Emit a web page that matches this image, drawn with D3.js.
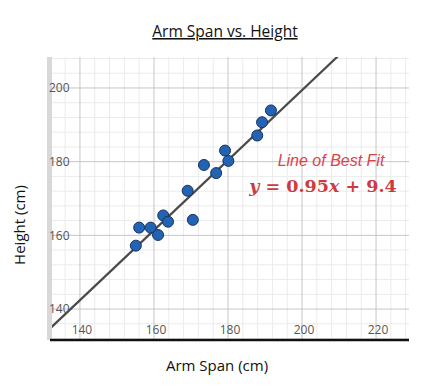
<!DOCTYPE html>
<html>
<head>
<meta charset="utf-8">
<script src="https://cdn.jsdelivr.net/npm/d3@7"></script>
<style>
    body { margin: 0; background: #fff; }
    svg { display: block; font-family: "Open Sans", "Noto Sans", sans-serif; }
</style>
</head>
<body>
<div id="chart"></div>
<script>
// data
const armSpan = [155.1, 156.0, 159.1, 161.1, 162.5, 163.8, 170.5, 169.1, 173.5, 176.8, 179.2, 180.1, 187.9, 189.2, 191.6];
const height = [157.2, 162.1, 162.1, 160.1, 165.4, 163.7, 164.2, 172.1, 179.1, 176.9, 183.0, 180.2, 187.1, 190.7, 193.9];
const xTicks = [140, 160, 180, 200, 220];
const yTicks = [140, 160, 180, 200];
const fitSlope = 0.95,
    fitIntercept = 9.4;

const W = 427, H = 390;
const plot = {left: 47, right: 409, top: 57, bottom: 340};

const x = d3.scaleLinear().domain([131.1, 228.9]).range([plot.left, plot.right]);
const y = d3.scaleLinear().domain([131.6, 208.4]).range([plot.bottom, plot.top]);

const svg = d3.select("#chart").append("svg")
    .attr("width", W)
    .attr("height", H);

svg.append("defs").append("clipPath").attr("id", "clip")
    .append("rect")
    .attr("x", plot.left).attr("y", plot.top)
    .attr("width", plot.right - plot.left).attr("height", plot.bottom - plot.top);

const g = svg.append("g").attr("clip-path", "url(#clip)");

// minor grid every 4 units
const minorX = d3.range(132, 229, 4).filter(v => v % 20 !== 0);
const minorY = d3.range(132, 209, 4).filter(v => v % 20 !== 0);

g.selectAll(".minor-x").data(minorX).enter().append("line")
    .attr("x1", d => x(d)).attr("x2", d => x(d))
    .attr("y1", plot.top).attr("y2", plot.bottom)
    .attr("stroke", "#ebebeb").attr("stroke-width", 1);

g.selectAll(".minor-y").data(minorY).enter().append("line")
    .attr("y1", d => y(d)).attr("y2", d => y(d))
    .attr("x1", plot.left).attr("x2", plot.right)
    .attr("stroke", "#ebebeb").attr("stroke-width", 1);

g.selectAll(".major-x").data(xTicks).enter().append("line")
    .attr("x1", d => x(d)).attr("x2", d => x(d))
    .attr("y1", plot.top).attr("y2", plot.bottom)
    .attr("stroke", "#c6c6c6").attr("stroke-width", 1);

g.selectAll(".major-y").data(yTicks).enter().append("line")
    .attr("y1", d => y(d)).attr("y2", d => y(d))
    .attr("x1", plot.left).attr("x2", plot.right)
    .attr("stroke", "#c6c6c6").attr("stroke-width", 1);

// gray band at left edge
svg.append("rect")
    .attr("x", plot.left).attr("y", plot.top)
    .attr("width", 5).attr("height", plot.bottom - plot.top)
    .attr("fill", "#d8d8d8");

// tick labels
svg.append("g").selectAll("text").data(xTicks).enter().append("text")
    .attr("x", d => x(d) + 2)
    .attr("y", 330)
    .attr("dy", "0.35em")
    .attr("text-anchor", "middle")
    .attr("font-size", 12)
    .attr("fill", "#555")
    .text(d => d);

svg.append("g").selectAll("text").data(yTicks).enter().append("text")
    .attr("x", plot.left + 2)
    .attr("y", d => y(d))
    .attr("dy", "0.35em")
    .attr("font-size", 12)
    .attr("fill", "#555")
    .text(d => d);

// line of best fit
const x0 = x.domain()[0], x1 = x.domain()[1];
g.append("line")
    .attr("x1", x(x0)).attr("y1", y(fitSlope * x0 + fitIntercept))
    .attr("x2", x(x1)).attr("y2", y(fitSlope * x1 + fitIntercept))
    .attr("stroke", "#4a4a4a")
    .attr("stroke-width", 2.2);

// points
g.selectAll(".pt").data(armSpan).enter().append("circle")
    .attr("cx", d => x(d))
    .attr("cy", (d, i) => y(height[i]))
    .attr("r", 5.5)
    .attr("fill", "#2263b4")
    .attr("stroke", "#16325f")
    .attr("stroke-width", 1);

// bottom axis line
svg.append("line")
    .attr("x1", 50).attr("x2", plot.right)
    .attr("y1", plot.bottom).attr("y2", plot.bottom)
    .attr("stroke", "#111")
    .attr("stroke-width", 2.5);

// annotation
svg.append("text")
    .attr("x", 331).attr("y", 160)
    .attr("dy", "0.35em")
    .attr("text-anchor", "middle")
    .attr("font-family", "Liberation Sans, Arial, sans-serif")
    .attr("font-style", "italic")
    .attr("font-size", 16)
    .attr("fill", "#d9444a")
    .text("Line of Best Fit");

const eq = svg.append("text")
    .attr("x", 323).attr("y", 192)
    .attr("text-anchor", "middle")
    .attr("font-family", "DejaVu Serif, Liberation Serif, serif")
    .attr("font-weight", "bold")
    .attr("font-size", 17.5)
    .attr("fill", "#cc3b3f");
eq.append("tspan").attr("font-style", "italic").text("y");
eq.append("tspan").text(" = 0.95");
eq.append("tspan").attr("font-style", "italic").text("x");
eq.append("tspan").text(" + 9.4");

// titles
svg.append("text")
    .attr("x", 225).attr("y", 37)
    .attr("text-anchor", "middle")
    .attr("font-size", 15.5)
    .attr("fill", "#111")
    .attr("text-decoration", "underline")
    .text("Arm Span vs. Height");

svg.append("text")
    .attr("x", 217).attr("y", 371)
    .attr("text-anchor", "middle")
    .attr("font-size", 15)
    .attr("fill", "#111")
    .text("Arm Span (cm)");

svg.append("text")
    .attr("transform", "translate(25,225) rotate(-90)")
    .attr("text-anchor", "middle")
    .attr("font-size", 15)
    .attr("fill", "#111")
    .text("Height (cm)");
</script>
</body>
</html>
